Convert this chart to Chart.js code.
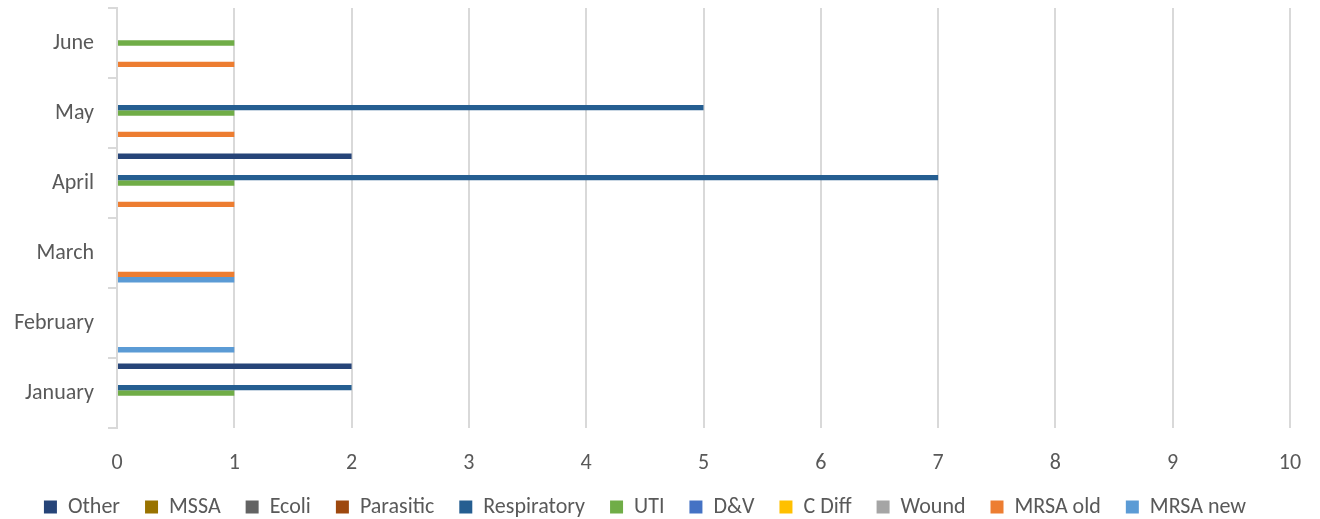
<!DOCTYPE html>
<html>
<head>
<meta charset="utf-8">
<script src="https://cdn.jsdelivr.net/npm/chart.js@4"></script>
<style>
  html, body { margin: 0; padding: 0; background: #fff; }
  #wrap { width: 1320px; height: 519px; }
</style>
</head>
<body>
<div id="wrap"><canvas id="infeksi"></canvas></div>
<script>
const months = ['January', 'February', 'March', 'April', 'May', 'June'];

const other       = [2, 0, 0, 2, 0, 0];
const mssa        = [0, 0, 0, 0, 0, 0];
const ecoli       = [0, 0, 0, 0, 0, 0];
const parasitic   = [0, 0, 0, 0, 0, 0];
const respiratory = [2, 0, 0, 7, 5, 0];
const uti         = [1, 0, 0, 1, 1, 1];
const dv          = [0, 0, 0, 0, 0, 0];
const cdiff       = [0, 0, 0, 0, 0, 0];
const wound       = [0, 0, 0, 0, 0, 0];
const mrsaOld     = [0, 0, 1, 1, 1, 1];
const mrsaNew     = [0, 1, 1, 0, 0, 0];

const xTicks = [0, 1, 2, 3, 4, 5, 6, 7, 8, 9, 10];

const textColor = '#595959';
const gridColor = '#d9d9d9';
const fontFamily = 'Carlito, Calibri, "Open Sans", sans-serif';

function seri(label, data, color) {
    return {
        label: label,
        data: data,
        backgroundColor: color,
        borderWidth: 0,
        barPercentage: 1,
        categoryPercentage: 0.84
    };
}

const ctx = document.getElementById('infeksi').getContext('2d');

new Chart(ctx, {
    type: 'bar',
    data: {
        labels: months,
        datasets: [
            seri('Other', other, '#264478'),
            seri('MSSA', mssa, '#997300'),
            seri('Ecoli', ecoli, '#636363'),
            seri('Parasitic', parasitic, '#9e480e'),
            seri('Respiratory', respiratory, '#255e91'),
            seri('UTI', uti, '#70ad47'),
            seri('D&V', dv, '#4472c4'),
            seri('C Diff', cdiff, '#ffc000'),
            seri('Wound', wound, '#a5a5a5'),
            seri('MRSA old', mrsaOld, '#ed7d31'),
            seri('MRSA new', mrsaNew, '#5b9bd5')
        ]
    },
    options: {
        indexAxis: 'y',
        responsive: true,
        maintainAspectRatio: false,
        animation: false,
        layout: { padding: { top: 8, right: 30, left: 0, bottom: -9 } },
        scales: {
            x: {
                min: 0,
                max: 10,
                afterBuildTicks: scale => {
                    scale.ticks = xTicks.map(v => ({ value: v }));
                },
                afterFit: scale => {
                    scale.height = 43;
                    scale.paddingLeft = 0;
                    scale.paddingRight = 0;
                },
                grid: { color: gridColor, lineWidth: 2, drawTicks: false },
                border: { display: false },
                ticks: {
                    padding: 22,
                    color: textColor,
                    font: { family: fontFamily, size: 22 }
                }
            },
            y: {
                reverse: true,
                afterFit: scale => {
                    scale.width = 117;
                    scale.paddingTop = 0;
                    scale.paddingBottom = 0;
                },
                grid: {
                    offset: true,
                    drawOnChartArea: false,
                    tickLength: 9,
                    lineWidth: 2,
                    color: gridColor
                },
                border: { display: true, color: gridColor, width: 2 },
                ticks: {
                    padding: 14,
                    color: textColor,
                    font: { family: fontFamily, size: 22 }
                }
            }
        },
        plugins: {
            legend: {
                position: 'bottom',
                labels: {
                    boxWidth: 13,
                    boxHeight: 13,
                    padding: 25,
                    color: textColor,
                    font: { family: fontFamily, size: 22 }
                }
            },
            tooltip: { enabled: false }
        }
    }
});
</script>
</body>
</html>
